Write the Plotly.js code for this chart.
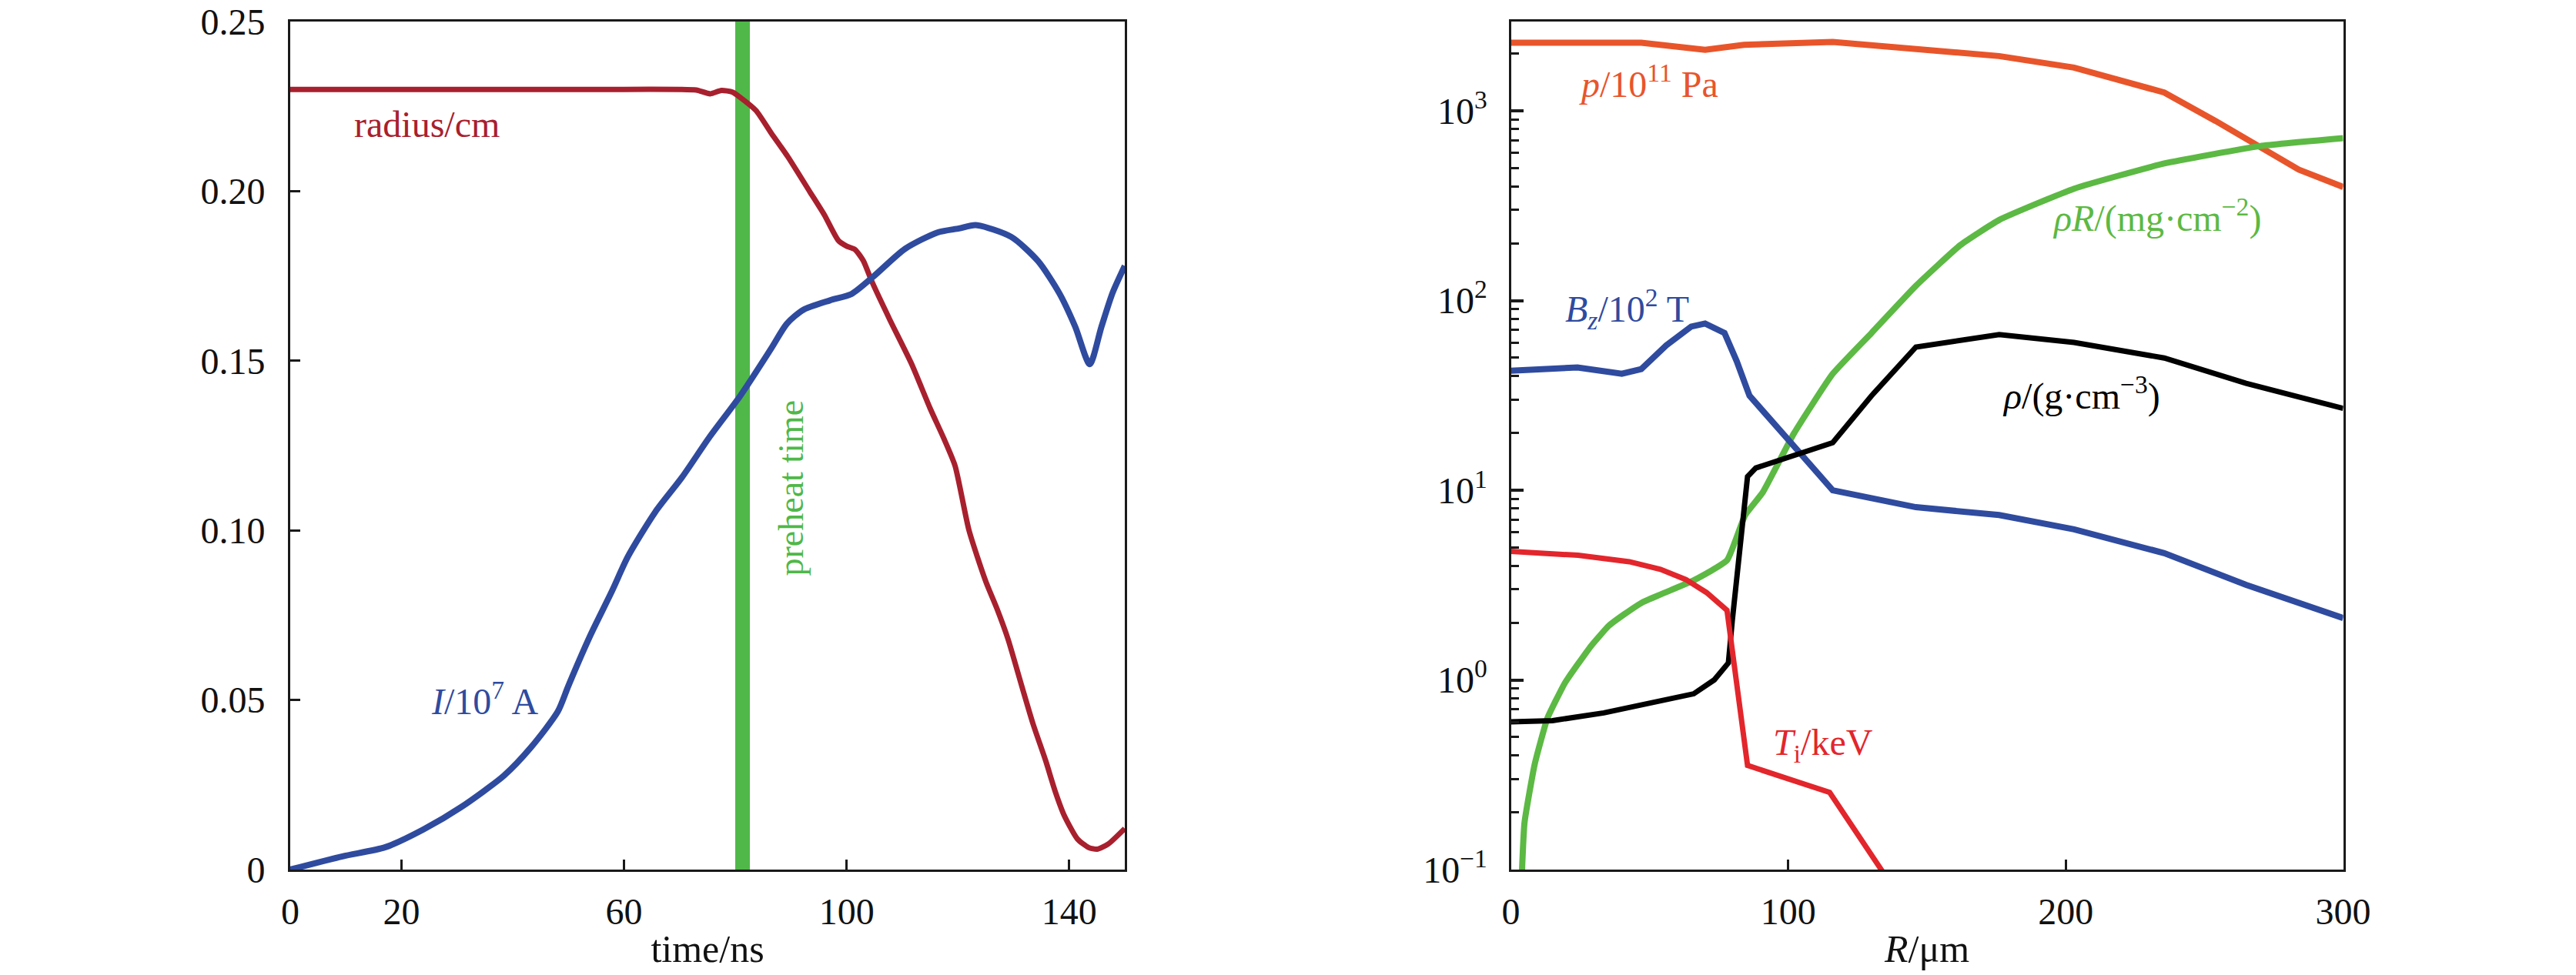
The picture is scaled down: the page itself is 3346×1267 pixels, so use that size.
<!DOCTYPE html>
<html>
<head>
<meta charset="utf-8">
<script src="https://cdn.plot.ly/plotly-3.0.1.min.js"></script>
<style>html,body{margin:0;padding:0;background:#fff;}#chart{width:3346px;height:1267px;}</style>
</head>
<body>
<div id="chart"></div>
<script>
// ---------- Left panel: time evolution ----------
const radiusTime = [0, 20, 40, 60, 70, 73, 75.5, 77.5, 79.5, 81, 83.7, 86.5, 89.5, 93.4, 96, 98.5, 100, 101.5, 103, 104.5, 107.8, 111.7, 115, 117.5, 119.5, 122, 125, 127, 129, 131.5, 133.5, 135.8, 137.5, 139.1, 141.5, 143.5, 145, 147, 150];
const radiusCm   = [0.23, 0.23, 0.23, 0.23, 0.23, 0.2298, 0.2287, 0.2297, 0.2292, 0.2275, 0.2238, 0.217, 0.210, 0.1998, 0.193, 0.1855, 0.1838, 0.1828, 0.1795, 0.1735, 0.162, 0.149, 0.136, 0.127, 0.119, 0.100, 0.085, 0.077, 0.068, 0.054, 0.043, 0.032, 0.023, 0.016, 0.009, 0.0065, 0.006, 0.0075, 0.0121];

const currentTime = [0, 9.4, 17.1, 23.9, 30.7, 38.4, 43.3, 48.1, 50, 53.9, 57.8, 60.7, 65.6, 70.4, 75.4, 80.9, 86.4, 89.3, 92.2, 97, 100.9, 104.8, 110.5, 116.3, 120.2, 123.2, 129.6, 134.4, 138.2, 141.1, 143.7, 145.8, 147.8, 150];
const current1e7A  = [0, 0.0039, 0.0066, 0.0118, 0.0184, 0.0277, 0.0361, 0.0466, 0.0542, 0.0689, 0.082, 0.0923, 0.1054, 0.1156, 0.1276, 0.1397, 0.1535, 0.161, 0.165, 0.1678, 0.1697, 0.1748, 0.183, 0.1878, 0.189, 0.190, 0.1865, 0.1794, 0.170, 0.160, 0.149, 0.160, 0.170, 0.178];

const preheatTime = 81.3;
const preheatSpan = [0, 0.25];

const leftXTicks = [0, 20, 60, 100, 140];
const leftYTicks = [0, 0.05, 0.10, 0.15, 0.20, 0.25];
const leftYTickText = ['0', '0.05', '0.10', '0.15', '0.20', '0.25'];

// ---------- Right panel: radial profiles ----------
const pR   = [0, 47, 70, 84, 116, 139, 176, 203, 235.5, 254, 270, 284, 300];
const pVal = [2290, 2290, 2100, 2230, 2310, 2150, 1945, 1690, 1250, 885, 640, 490, 397];

const bzR   = [0, 24, 40, 47, 56, 65, 70, 77, 81.4, 86, 102, 116, 146, 176, 203, 235.5, 265, 300];
const bzVal = [42.7, 44.4, 41.1, 43.5, 58, 72.9, 75.7, 67.5, 47.9, 31.5, 17.1, 10, 8.14, 7.4, 6.22, 4.66, 3.17, 2.12];

const rhoR   = [0, 15, 33.5, 52, 65.9, 73.3, 78.4, 79.8, 82.5, 85.3, 88.3, 116, 130, 146, 176, 203, 235.5, 265, 300];
const rhoVal = [0.601, 0.61, 0.67, 0.76, 0.845, 1.0, 1.23, 2.05, 5.2, 11.8, 13.1, 17.8, 31.5, 56.9, 66.2, 60.1, 49.8, 36.6, 27.0];

const rhoRR   = [3.6, 4.9, 8.6, 13.2, 19.6, 28.9, 35.3, 40.9, 47.3, 53.9, 65.9, 77.9, 84.4, 90.8, 102, 116, 130, 146, 162, 176, 203, 235.5, 270, 300];
const rhoRVal = [0.07, 0.176, 0.36, 0.63, 0.97, 1.51, 1.93, 2.22, 2.56, 2.82, 3.35, 4.27, 7.37, 9.75, 19.9, 41.1, 67.5, 119.6, 196, 266, 389, 528, 652, 718];

const tiR   = [0, 24.2, 42.7, 53.9, 63.1, 70.5, 77.9, 85.3, 114.9, 133.4, 140];
const tiVal = [4.76, 4.54, 4.20, 3.83, 3.38, 2.89, 2.33, 0.354, 0.255, 0.1, 0.072];

const rightXTicks = [0, 100, 200, 300];
const rightYTicks = [0.1, 1, 10, 100, 1000];
const rightYTickText = ['10<sup>−1</sup>', '10<sup>0</sup>', '10<sup>1</sup>', '10<sup>2</sup>', '10<sup>3</sup>'];

// ---------- Styles ----------
const FONT = '"Liberation Serif", "Times New Roman", serif';
const C_RADIUS = '#a8202e';
const C_BLUE = '#2f4b9f';
const C_GREEN = '#4fb848';
const C_P = '#e8552b';
const C_TI = '#e2262c';
const C_RHOR = '#5cb943';

const traces = [
  {x: [preheatTime, preheatTime], y: preheatSpan, xaxis: 'x', yaxis: 'y', mode: 'lines',
   line: {color: C_GREEN, width: 19}, hoverinfo: 'skip'},
  {x: radiusTime, y: radiusCm, xaxis: 'x', yaxis: 'y', mode: 'lines',
   line: {color: C_RADIUS, width: 7, shape: 'spline', smoothing: 0.6}},
  {x: currentTime, y: current1e7A, xaxis: 'x', yaxis: 'y', mode: 'lines',
   line: {color: C_BLUE, width: 8, shape: 'spline', smoothing: 0.7}},

  {x: pR, y: pVal, xaxis: 'x2', yaxis: 'y2', mode: 'lines', line: {color: C_P, width: 8}},
  {x: rhoRR, y: rhoRVal, xaxis: 'x2', yaxis: 'y2', mode: 'lines', line: {color: C_RHOR, width: 8, shape: 'spline', smoothing: 0.4}},
  {x: bzR, y: bzVal, xaxis: 'x2', yaxis: 'y2', mode: 'lines', line: {color: C_BLUE, width: 8}},
  {x: rhoR, y: rhoVal, xaxis: 'x2', yaxis: 'y2', mode: 'lines', line: {color: '#000000', width: 7}},
  {x: tiR, y: tiVal, xaxis: 'x2', yaxis: 'y2', mode: 'lines', line: {color: C_TI, width: 7}}
];

const tickFont = {family: FONT, size: 48, color: '#111'};
const axisCommon = {
  showline: true, linecolor: '#1a1a1a', linewidth: 3, mirror: true,
  showgrid: false, zeroline: false, ticks: 'inside', tickcolor: '#1a1a1a',
  tickwidth: 3, ticklen: 13, tickfont: tickFont
};

const lbl = (text, x, y, color, xref, yref, extra) => Object.assign({
  text: text, x: x, y: y, xref: xref, yref: yref, showarrow: false,
  xanchor: 'center', yanchor: 'middle', font: {family: FONT, size: 48, color: color}
}, extra || {});

const layout = {
  width: 3346, height: 1267,
  margin: {l: 0, r: 0, t: 0, b: 0},
  paper_bgcolor: '#ffffff', plot_bgcolor: '#ffffff',
  showlegend: false,
  xaxis: Object.assign({}, axisCommon, {
    domain: [377 / 3346, 1461 / 3346], range: [0, 150], anchor: 'y',
    tickmode: 'array', tickvals: leftXTicks, ticklabelstandoff: 10,
    title: {text: 'time/ns', font: {family: FONT, size: 50, color: '#111'}, standoff: 6}
  }),
  yaxis: Object.assign({}, axisCommon, {
    domain: [137 / 1267, 1239 / 1267], range: [0, 0.25], anchor: 'x',
    tickmode: 'array', tickvals: leftYTicks, ticktext: leftYTickText, ticklabelstandoff: 20
  }),
  xaxis2: Object.assign({}, axisCommon, {
    domain: [1962.5 / 3346, 3043.6 / 3346], range: [0, 300], anchor: 'y2',
    tickmode: 'array', tickvals: rightXTicks, ticklabelstandoff: 10,
    title: {text: '<i>R</i>/μm', font: {family: FONT, size: 50, color: '#111'}, standoff: 6}
  }),
  yaxis2: Object.assign({}, axisCommon, {
    domain: [137 / 1267, 1239 / 1267], type: 'log', range: [-1, 3.471], anchor: 'x2',
    tickmode: 'array', tickvals: rightYTicks, ticktext: rightYTickText, ticklabelstandoff: 18,
    tickwidth: 4, ticklen: 16,
    minor: {ticks: 'inside', dtick: 'D1', ticklen: 10, tickwidth: 3, tickcolor: '#1a1a1a', showgrid: false}
  }),
  annotations: [
    lbl('radius/cm', 24.6, 0.2197, C_RADIUS, 'x', 'y'),
    lbl('<i>I</i>/10<sup>7</sup> A', 35.0, 0.0503, C_BLUE, 'x', 'y'),
    lbl('preheat time', 90.0, 0.1125, C_GREEN, 'x', 'y', {textangle: -90, font: {family: FONT, size: 46, color: C_GREEN}}),
    lbl('<i>p</i>/10<sup>11</sup> Pa', 49.8, Math.log10(1426), C_P, 'x2', 'y2'),
    lbl('<i>B</i><sub><i>z</i></sub>/10<sup>2</sup> T', 41.8, Math.log10(89.9), C_BLUE, 'x2', 'y2'),
    lbl('<i>ρR</i>/(mg·cm<sup>−2</sup>)', 232.7, Math.log10(280.5), C_RHOR, 'x2', 'y2'),
    lbl('<i>ρ</i>/(g·cm<sup>−3</sup>)', 205.5, Math.log10(32.2), '#000000', 'x2', 'y2'),
    lbl('<i>T</i><sub>i</sub>/keV', 112.5, Math.log10(0.456), C_TI, 'x2', 'y2')
  ]
};

Plotly.newPlot('chart', traces, layout, {displayModeBar: false});
</script>
</body>
</html>
